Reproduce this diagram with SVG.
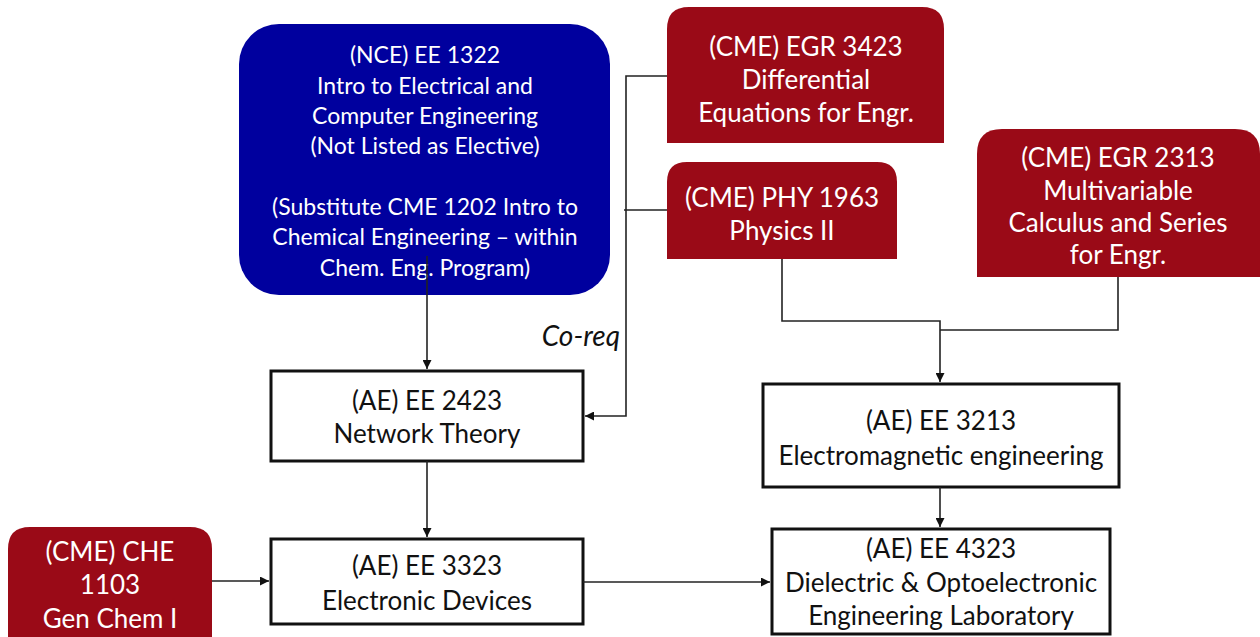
<svg xmlns="http://www.w3.org/2000/svg" width="1260" height="637" viewBox="0 0 1260 637">
<defs>
<style>
.t{font-family:Lato,"Open Sans","Liberation Sans",sans-serif;font-size:26px;text-anchor:middle;dominant-baseline:central}
.s{font-size:23px}
.w{fill:#ffffff}
.k{fill:#111111}
.red{fill:#9a0a17}
.blue{fill:#00009e}
.box{fill:#ffffff;stroke:#111111;stroke-width:3}
.c{fill:none;stroke:#222222;stroke-width:1.6}
.it{font-family:Lato,"Open Sans","Liberation Sans",sans-serif;font-size:28px;font-style:italic;fill:#111111;text-anchor:end;dominant-baseline:central}
</style>
<marker id="ah" viewBox="0 0 10 10" refX="10" refY="5" markerWidth="9" markerHeight="9" markerUnits="userSpaceOnUse" orient="auto">
<path d="M0,0 L10,5 L0,10 Z" fill="#111111"/>
</marker>
</defs>
<rect width="1260" height="637" fill="#ffffff"/>

<g id="n_ee1322">
<rect class="blue" x="239" y="24" width="371" height="271" rx="40" ry="40"/>
<text class="t s w" x="425" y="54">(NCE) EE 1322</text>
<text class="t s w" x="425" y="85">Intro to Electrical and</text>
<text class="t s w" x="425" y="115">Computer Engineering</text>
<text class="t s w" x="425" y="145">(Not Listed as Elective)</text>
<text class="t s w" x="425" y="206">(Substitute CME 1202 Intro to</text>
<text class="t s w" x="425" y="236">Chemical Engineering – within</text>
<text class="t s w" x="425" y="267">Chem. Eng. Program)</text>
</g>

<g id="n_egr3423">
<path class="red" d="M667,143 V29 Q667,7 689,7 H922 Q944,7 944,29 V143 Z"/>
<text class="t w" x="806" y="46">(CME) EGR 3423</text>
<text class="t w" x="806" y="79">Differential</text>
<text class="t w" x="806" y="112">Equations for Engr.</text>
</g>

<g id="n_phy1963">
<path class="red" d="M667,259 V182 Q667,162 687,162 H877 Q897,162 897,182 V259 Z"/>
<text class="t w" x="782" y="197">(CME) PHY 1963</text>
<text class="t w" x="782" y="230">Physics II</text>
</g>

<g id="n_egr2313">
<path class="red" d="M977,277 V154 Q977,129 1002,129 H1235 Q1260,129 1260,154 V277 Z"/>
<text class="t w" x="1118" y="157">(CME) EGR 2313</text>
<text class="t w" x="1118" y="190">Multivariable</text>
<text class="t w" x="1118" y="222">Calculus and Series</text>
<text class="t w" x="1118" y="254">for Engr.</text>
</g>

<g id="n_che1103">
<path class="red" d="M8,645 V549 Q8,527 30,527 H190 Q212,527 212,549 V645 Z"/>
<text class="t w" x="110" y="551">(CME) CHE</text>
<text class="t w" x="110" y="584">1103</text>
<text class="t w" x="110" y="618">Gen Chem I</text>
</g>

<g id="n_ee2423">
<rect class="box" x="271" y="371" width="312" height="90"/>
<text class="t k" x="427" y="400">(AE) EE 2423</text>
<text class="t k" x="427" y="433">Network Theory</text>
</g>

<g id="n_ee3323">
<rect class="box" x="271" y="539" width="312" height="85"/>
<text class="t k" x="427" y="565">(AE) EE 3323</text>
<text class="t k" x="427" y="600">Electronic Devices</text>
</g>

<g id="n_ee3213">
<rect class="box" x="763" y="384" width="356" height="103"/>
<text class="t k" x="941" y="420">(AE) EE 3213</text>
<text class="t k" x="941" y="455">Electromagnetic engineering</text>
</g>

<g id="n_ee4323">
<rect class="box" x="772" y="529" width="338" height="105"/>
<text class="t k" x="941" y="548">(AE) EE 4323</text>
<text class="t k" x="941" y="582">Dielectric &amp; Optoelectronic</text>
<text class="t k" x="941" y="615">Engineering Laboratory</text>
</g>

<g id="connectors">
<path class="c" d="M427,256 V369" marker-end="url(#ah)"/>
<path class="c" d="M667,76 H626 V416 H585" marker-end="url(#ah)"/>
<path class="c" d="M667,210 H624"/>
<path class="c" d="M782,259 V321 H940 V382" marker-end="url(#ah)"/>
<path class="c" d="M1118,277 V330 H940"/>
<path class="c" d="M427,461 V537" marker-end="url(#ah)"/>
<path class="c" d="M212,581 H269" marker-end="url(#ah)"/>
<path class="c" d="M583,582 H770" marker-end="url(#ah)"/>
<path class="c" d="M940,487 V527" marker-end="url(#ah)"/>
<text class="it" x="620" y="335">Co-req</text>
</g>
</svg>
